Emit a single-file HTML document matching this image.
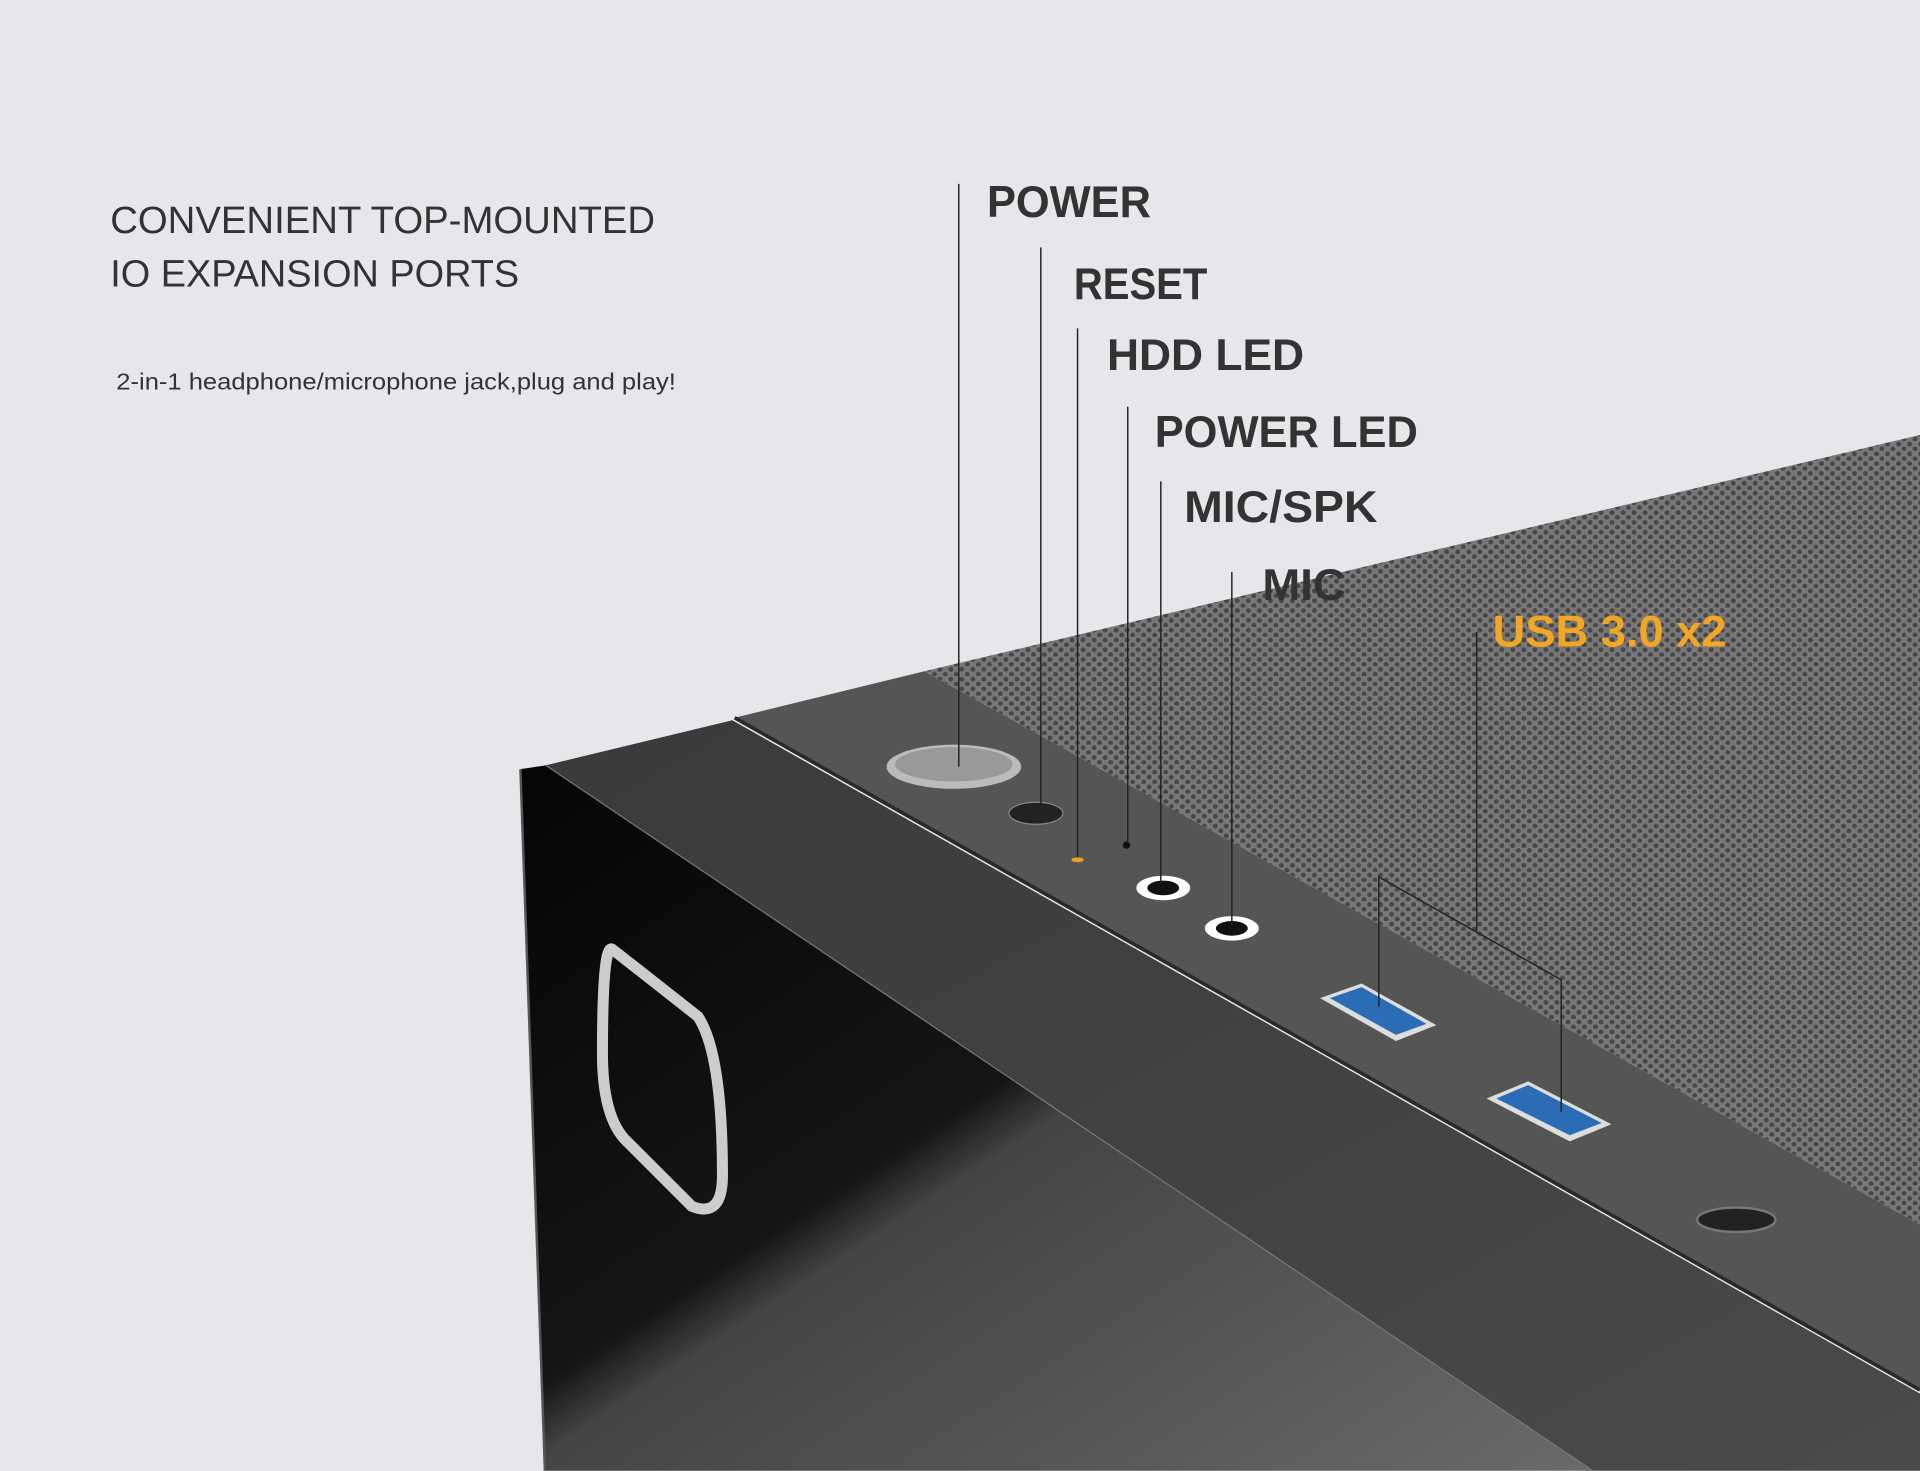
<!DOCTYPE html>
<html><head><meta charset="utf-8"><style>
html,body{margin:0;padding:0;background:#e6e7ea;}
svg{display:block}
</style></head><body>
<svg width="1920" height="1471" viewBox="0 0 1568 1201" xmlns="http://www.w3.org/2000/svg">
<defs>
<pattern id="mesh" width="9" height="8" patternUnits="userSpaceOnUse">
<rect width="9" height="8" fill="#787878"/>
<circle cx="2.5" cy="2.5" r="2" fill="#474747"/>
<circle cx="7" cy="6.5" r="2" fill="#474747"/>
</pattern>
<linearGradient id="front" x1="0" y1="0" x2="1" y2="1">
<stop offset="0" stop-color="#050505"/><stop offset="0.45" stop-color="#151515"/><stop offset="0.5" stop-color="#444"/><stop offset="1" stop-color="#6a6a6a"/>
</linearGradient>
<linearGradient id="slab" x1="0" y1="0" x2="1" y2="1">
<stop offset="0" stop-color="#3a3a3a"/><stop offset="1" stop-color="#4a4a4a"/>
</linearGradient>
</defs>
<rect width="1568" height="1201" fill="#e6e7ea"/>
<polygon points="755,548 1568,355 1568,1000" fill="url(#mesh)"/>
<polygon points="600,586 755,548 1568,1000 1568,1135" fill="#555"/>
<line x1="600" y1="586" x2="1568" y2="1135" stroke="#2a2a2a" stroke-width="3"/>
<polygon points="445,625 598,588 1568,1138 1568,1201 1300,1201" fill="url(#slab)"/>
<line x1="445" y1="625" x2="1300" y2="1201" stroke="#777" stroke-width="2"/>
<polygon points="425,628 445,625 1300,1201 445,1201" fill="url(#front)"/>
<line x1="425" y1="628" x2="445" y2="1201" stroke="#555" stroke-width="2"/>
<path d="M500,775 L570,830 Q590,860 590,960 Q590,995 565,985 L510,930 Q492,910 492,860 Q492,770 500,775 Z" fill="none" stroke="#ccc" stroke-width="9"/>
<ellipse cx="779" cy="626" rx="55" ry="18" fill="#bbb"/>
<ellipse cx="779" cy="624" rx="48" ry="14" fill="#999"/>
<ellipse cx="846" cy="664" rx="22" ry="9" fill="#222" stroke="#888"/>
<ellipse cx="880" cy="702" rx="5" ry="2" fill="#f0a020"/>
<circle cx="920" cy="690" r="3" fill="#111"/>
<ellipse cx="950" cy="725" rx="22" ry="10" fill="#fff"/><ellipse cx="950" cy="725" rx="13" ry="6" fill="#111"/>
<ellipse cx="1006" cy="758" rx="22" ry="10" fill="#fff"/><ellipse cx="1006" cy="758" rx="13" ry="6" fill="#111"/>
<polygon points="1078,815 1112,803 1173,837 1140,850" fill="#ddd"/>
<polygon points="1086,815 1112,806 1165,836 1140,845" fill="#2a6db5"/>
<polygon points="1214,897 1248,883 1316,918 1282,932" fill="#ddd"/>
<polygon points="1222,897 1248,886 1308,917 1282,927" fill="#2a6db5"/>
<ellipse cx="1418" cy="996" rx="32" ry="10" fill="#222" stroke="#777" stroke-width="2"/>
<g stroke="#222" stroke-width="1.2" fill="none">
<line x1="783" y1="150" x2="783" y2="626"/>
<line x1="850" y1="202" x2="850" y2="664"/>
<line x1="880" y1="268" x2="880" y2="700"/>
<line x1="921" y1="332" x2="921" y2="688"/>
<line x1="948" y1="393" x2="948" y2="722"/>
<line x1="1006" y1="467" x2="1006" y2="756"/>
<polyline points="1126,822 1126,716 1275,800 1275,908"/>
<line x1="1206" y1="516" x2="1206" y2="760"/>
</g>
<g font-family="Liberation Sans, sans-serif" font-weight="bold" fill="#333" font-size="36">
<text x="806" y="177" textLength="134" lengthAdjust="spacingAndGlyphs">POWER</text>
<text x="877" y="244" textLength="109" lengthAdjust="spacingAndGlyphs">RESET</text>
<text x="904" y="302" textLength="161" lengthAdjust="spacingAndGlyphs">HDD LED</text>
<text x="943" y="365" textLength="215" lengthAdjust="spacingAndGlyphs">POWER LED</text>
<text x="967" y="426" textLength="158" lengthAdjust="spacingAndGlyphs">MIC/SPK</text>
<text x="1031" y="490" textLength="68" lengthAdjust="spacingAndGlyphs">MIC</text>
<text x="1219" y="528" fill="#f3a623" textLength="191" lengthAdjust="spacingAndGlyphs">USB 3.0 x2</text>
</g>
<g font-family="Liberation Sans, sans-serif" fill="#333">
<text x="90" y="190" font-size="31" textLength="445" lengthAdjust="spacingAndGlyphs">CONVENIENT TOP-MOUNTED</text>
<text x="90" y="234" font-size="31" textLength="334" lengthAdjust="spacingAndGlyphs">IO EXPANSION PORTS</text>
<text x="95" y="318" font-size="19" textLength="457" lengthAdjust="spacingAndGlyphs">2-in-1 headphone/microphone jack,plug and play!</text>
</g>
</svg>
</body></html>
